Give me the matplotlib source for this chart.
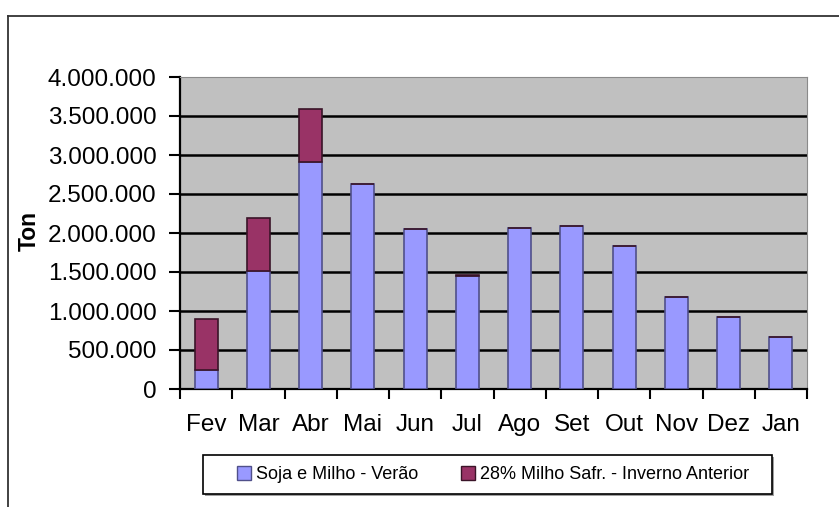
import numpy as np
import matplotlib.pyplot as plt
from matplotlib.lines import Line2D
from matplotlib.patches import Rectangle, Patch
from matplotlib.ticker import FuncFormatter, MultipleLocator

plt.rcParams['font.family'] = ['Liberation Sans', 'DejaVu Sans']

meses = ['Fev', 'Mar', 'Abr', 'Mai', 'Jun', 'Jul', 'Ago', 'Set', 'Out', 'Nov', 'Dez', 'Jan']
soja_milho_verao = [245000, 1517000, 2914000, 2632000, 2047000, 1455000,
                    2060000, 2090000, 1833000, 1183000, 927000, 663000]
milho_safrinha = [655000, 675000, 676000, 0, 0, 12000,
                  0, 0, 0, 0, 0, 0]
legenda = ['Soja e Milho - Verão', '28% Milho Safr. - Inverno Anterior']

W, H = 839, 507
fig = plt.figure(figsize=(W / 100, H / 100), dpi=100)

# moldura externa (só topo e esquerda aparecem)
fig.add_artist(Line2D([8 / W, 1], [1 - 16 / H, 1 - 16 / H], color='#333333', lw=1.3))
fig.add_artist(Line2D([8 / W, 8 / W], [0, 1 - 16 / H], color='#333333', lw=1.3))

ax = fig.add_axes([180 / W, 1 - 389 / H, (807 - 180) / W, (389 - 77) / H])
ax.set_facecolor('#c0c0c0')

x = np.arange(len(meses))
ax.bar(x, soja_milho_verao, width=0.44, color='#9999ff',
       edgecolor='#50508a', linewidth=1.2, zorder=3)
ax.bar(x, milho_safrinha, width=0.44, bottom=soja_milho_verao, color='#993366',
       edgecolor='#3a1428', linewidth=1.2, zorder=3)

ax.set_xlim(-0.5, len(meses) - 0.5)
ax.set_ylim(0, 4000000)
ax.yaxis.set_major_locator(MultipleLocator(500000))
ax.yaxis.set_major_formatter(FuncFormatter(lambda v, p: f'{int(v):,}'.replace(',', '.')))
for v in range(500000, 4000000, 500000):
    ax.axhline(v, color='black', lw=1.8, zorder=1)

ax.set_xticks(x)
ax.set_xticklabels(meses)
ax.set_xticks(np.arange(-0.5, len(meses)), minor=True)
ax.tick_params(axis='x', which='major', length=0, pad=18, labelsize=17.5)
ax.tick_params(axis='x', which='minor', length=7, width=1.5, direction='out')
ax.tick_params(axis='y', length=8, width=1.5, pad=9, labelsize=17.5)

ax.spines['left'].set_linewidth(1.6)
ax.spines['bottom'].set_linewidth(1.6)
ax.spines['top'].set_color('#8a8a8a')
ax.spines['right'].set_color('#8a8a8a')

ax.set_ylabel('Ton', fontsize=16.5, fontweight='bold')
ax.yaxis.set_label_coords(-139 / (807 - 180), 0.505)

# caixa da legenda com sombra
fig.add_artist(Rectangle((205 / W, 1 - 496 / H), (772 - 203) / W, (494 - 455) / H,
                         transform=fig.transFigure, facecolor='#a0a0a0', edgecolor='none'))
fig.add_artist(Rectangle((203 / W, 1 - 494 / H), (772 - 203) / W, (494 - 455) / H,
                         transform=fig.transFigure, facecolor='white', edgecolor='black', lw=1.2))
handles = [Patch(facecolor='#9999ff', edgecolor='#50508a'),
           Patch(facecolor='#993366', edgecolor='#3a1428')]
fig.legend(handles, legenda, ncol=2, frameon=False, fontsize=13,
           loc='center left', bbox_to_anchor=(228 / W, 1 - 474.5 / H),
           borderpad=0, handlelength=0.78, handleheight=0.78,
           handletextpad=0.25, columnspacing=2.4)

fig.savefig('out.png', dpi=100)
